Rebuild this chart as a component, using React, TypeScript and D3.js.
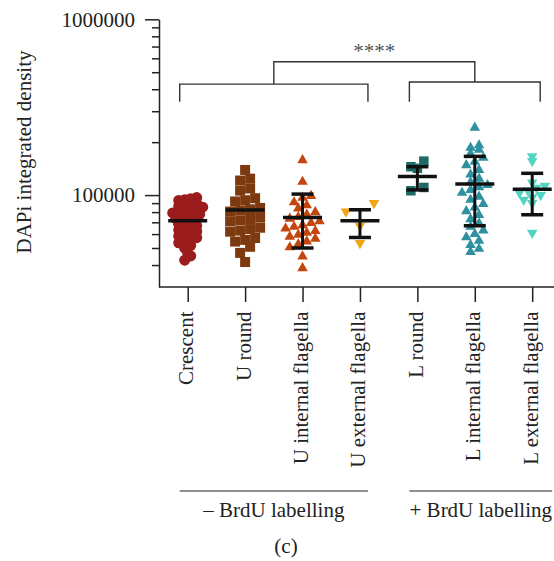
import React, { useEffect, useRef } from 'react';
import * as d3 from 'd3';

const categories = [
  'Crescent',
  'U round',
  'U internal flagella',
  'U external flagella',
  'L round',
  'L internal flagella',
  'L external flagella',
];

// DAPi integrated density per cell
const crescent = [
  96800, 95400, 94100, 93200, 89700, 88200, 87100, 86400, 85300, 83600,
  82100, 81200, 80300, 79100, 77800, 76500, 75300, 74400, 73500, 72600,
  71400, 70200, 68300, 66900, 65400, 64200, 63300, 62100, 60900, 59600,
  58400, 57200, 56100, 54800, 53500, 51800, 49900, 46800, 45100, 42600,
];
const uRound = [
  139000, 124000, 121000, 109000, 106000, 96000, 93500, 92000, 84500, 83000,
  81800, 80600, 74500, 73100, 71800, 70900, 65200, 64100, 62800, 61900,
  57000, 55600, 54400, 50800, 46900, 41600,
];
const uInternal = [
  158000, 119000, 99000, 96500, 91000, 87500, 84000, 80000, 77500, 75000,
  73500, 71000, 69500, 67500, 66000, 64500, 62500, 61000, 59500, 58000,
  56500, 54500, 52500, 50500, 44800, 38400,
];
const uExternal = [90000, 80600, 66900, 53300];
const lRound = [156000, 145000, 142000, 110500, 105800];
const lInternal = [
  242000, 192000, 186000, 181000, 172000, 163000, 155000, 148000, 139000, 131000,
  124000, 118000, 114000, 111000, 107000, 103000, 98000, 94000, 89000, 85000,
  81000, 77000, 73000, 69000, 66000, 63000, 60000, 57500, 55000, 52000,
  49500, 47500,
];
const lExternal = [166000, 156000, 118000, 113000, 110000, 106000, 103000, 100000, 97000, 94000, 90000, 61000];

const groupValues = [crescent, uRound, uInternal, uExternal, lRound, lInternal, lExternal];

// centre line and error bar ends (null = hidden behind the points)
const centreValues = [71500, 82300, 74600, 71500, 127600, 115500, 108000];
const errLow = [null, null, 50000, 57400, 107000, 66900, 77300];
const errHigh = [null, null, 101300, 82500, 145000, 166000, 133000];

const majorTicks = [100000, 1000000];
const minorTicks = [
  40000, 50000, 60000, 70000, 80000, 90000,
  200000, 300000, 400000, 500000, 600000, 700000, 800000, 900000,
];

const groupLabels = ['\u2013 BrdU labelling', '+ BrdU labelling'];
const groupSpans = [[0, 3], [4, 6]];
const bracketLevels = [428000, 440000];
const bracketLeg = 340000;
const bracketTop = 574000;
const signif = '****';

const markers = [
  { shape: d3.symbolCircle, size: 95, colour: '#9b1c1c', rowH: 6, step: 6, rotate: 0 },
  { shape: d3.symbolSquare, size: 100, colour: '#7d3a10', rowH: 10, step: 10, rotate: 0 },
  { shape: d3.symbolTriangle, size: 48, colour: '#c4460f', rowH: 9, step: 8.5, rotate: 0 },
  { shape: d3.symbolTriangle, size: 48, colour: '#f2a516', rowH: 16, step: 28, rotate: 180 },
  { shape: d3.symbolSquare, size: 90, colour: '#1e6a63', rowH: 16, step: 13, rotate: 0 },
  { shape: d3.symbolTriangle, size: 48, colour: '#2f909f', rowH: 9, step: 8.5, rotate: 0 },
  { shape: d3.symbolTriangle, size: 48, colour: '#52d4c0', rowH: 9, step: 8.5, rotate: 180 },
];

const FONT = "'Liberation Serif', 'Times New Roman', Times, serif";

// Prism-like scatter: points falling in the same pixel row are spread sideways
function rowLayout(values: number[], y: (v: number) => number, rowH: number, step: number) {
  const pts = values.map(v => ({ v, py: y(v), dx: 0 }));
  const rows = d3.group(pts, p => Math.round(p.py / rowH));
  rows.forEach(row => {
    row.sort((a, b) => a.v - b.v);
    row.forEach((p, i) => { p.dx = (i - (row.length - 1) / 2) * step; });
  });
  return pts;
}

export default function App() {
  const svgRef = useRef<SVGSVGElement>(null);

  useEffect(() => {
    const width = 554;
    const axisY = 287;
    const axisX = 159;

    const svg = d3.select(svgRef.current);
    svg.selectAll('*').remove();

    const y = d3.scaleLog().domain([30000, 1000000]).range([axisY, 19.3]);
    const x = d3.scalePoint<string>().domain(categories).range([187.7, 532.2]);

    // y axis
    const yAxis = svg.append('g')
      .attr('transform', `translate(${axisX},0)`)
      .call(d3.axisLeft(y).tickValues(majorTicks).tickFormat(d3.format('d')).tickSize(14).tickSizeOuter(0).tickPadding(10));
    yAxis.attr('font-family', null).attr('font-size', null);
    yAxis.selectAll('text').attr('fill', '#222');
    yAxis.selectAll('line, path').attr('stroke', '#222').attr('stroke-width', 1.5);

    const yMinor = svg.append('g')
      .attr('transform', `translate(${axisX},0)`)
      .call(d3.axisLeft(y).tickValues(minorTicks).tickFormat(() => '').tickSize(7).tickSizeOuter(0));
    yMinor.select('.domain').remove();
    yMinor.selectAll('line').attr('stroke', '#222').attr('stroke-width', 1.5);

    svg.append('text')
      .attr('transform', 'translate(31,152) rotate(-90)')
      .attr('text-anchor', 'middle')
      .attr('fill', '#222')
      .text('DAPi integrated density');

    // x axis
    svg.append('line')
      .attr('x1', axisX).attr('x2', width)
      .attr('y1', axisY).attr('y2', axisY)
      .attr('stroke', '#222').attr('stroke-width', 1.5);

    const xAxis = svg.append('g')
      .attr('transform', `translate(0,${axisY})`)
      .call(d3.axisBottom(x).tickSize(15).tickFormat(() => ''));
    xAxis.attr('font-family', null).attr('font-size', null);
    xAxis.select('.domain').remove();
    xAxis.selectAll('line').attr('stroke', '#222').attr('stroke-width', 1.5);

    svg.append('g')
      .selectAll('text')
      .data(categories)
      .join('text')
      .attr('transform', d => `translate(${x(d)! + 5.5},311.5) rotate(-90)`)
      .attr('text-anchor', 'end')
      .attr('fill', '#222')
      .text(d => d);

    // points
    groupValues.forEach((vals, gi) => {
      const m = markers[gi];
      const cx = x(categories[gi])!;
      const pts = rowLayout(vals, y, m.rowH, m.step);
      const sym = d3.symbol().type(m.shape).size(m.size);
      svg.append('g')
        .selectAll('path')
        .data(pts)
        .join('path')
        .attr('transform', p => `translate(${cx + p.dx},${p.py}) rotate(${m.rotate})`)
        .attr('d', sym() as string)
        .attr('fill', m.colour);
    });

    // centre lines and error bars
    const bars = svg.append('g').attr('stroke', '#111');
    categories.forEach((c, gi) => {
      const cx = x(c)!;
      const lo = errLow[gi];
      const hi = errHigh[gi];
      if (lo != null && hi != null) {
        bars.append('line')
          .attr('x1', cx).attr('x2', cx)
          .attr('y1', y(hi)).attr('y2', y(lo))
          .attr('stroke-width', 3);
        [lo, hi].forEach(v => {
          bars.append('line')
            .attr('x1', cx - 11).attr('x2', cx + 11)
            .attr('y1', y(v)).attr('y2', y(v))
            .attr('stroke-width', 3.5);
        });
      }
      bars.append('line')
        .attr('x1', cx - 19.5).attr('x2', cx + 19.5)
        .attr('y1', y(centreValues[gi])).attr('y2', y(centreValues[gi]))
        .attr('stroke-width', 3.5);
    });

    // significance brackets
    const pad = 8;
    const brk = svg.append('g').attr('fill', 'none').attr('stroke', '#333').attr('stroke-width', 1.4);
    const mids: number[] = [];
    groupSpans.forEach(([a, b], i) => {
      const x0 = x(categories[a])! - pad;
      const x1 = x(categories[b])! + pad;
      mids.push((x0 + x1) / 2);
      const top = y(bracketLevels[i]);
      brk.append('path')
        .attr('d', `M${x0},${y(bracketLeg)}V${top}H${x1}V${y(bracketLeg)}`);
    });
    brk.append('path')
      .attr('d', `M${mids[0]},${y(bracketLevels[0])}V${y(bracketTop)}H${mids[1]}V${y(bracketLevels[1])}`);

    svg.append('text')
      .attr('x', (mids[0] + mids[1]) / 2)
      .attr('y', y(bracketTop) - 4)
      .attr('text-anchor', 'middle')
      .attr('fill', '#555')
      .text(signif);

    // group labels
    groupSpans.forEach(([a, b], i) => {
      const x0 = x(categories[a])! - pad;
      const x1 = i === groupSpans.length - 1 ? x(categories[b])! + 20 : x(categories[b])! + pad;
      svg.append('line')
        .attr('x1', x0).attr('x2', x1)
        .attr('y1', 491).attr('y2', 491)
        .attr('stroke', '#222').attr('stroke-width', 1.2);
      svg.append('text')
        .attr('x', (x0 + x1) / 2)
        .attr('y', 517)
        .attr('text-anchor', 'middle')
        .attr('fill', '#222')
        .text(groupLabels[i]);
    });

    svg.append('text')
      .attr('x', 286)
      .attr('y', 553)
      .attr('text-anchor', 'middle')
      .attr('fill', '#222')
      .text('(c)');
  }, []);

  return (
    <svg
      ref={svgRef}
      width={554}
      height={561}
      style={{ position: 'absolute', left: 0, top: 0, background: '#fff', fontFamily: FONT, fontSize: 21 }}
    />
  );
}
